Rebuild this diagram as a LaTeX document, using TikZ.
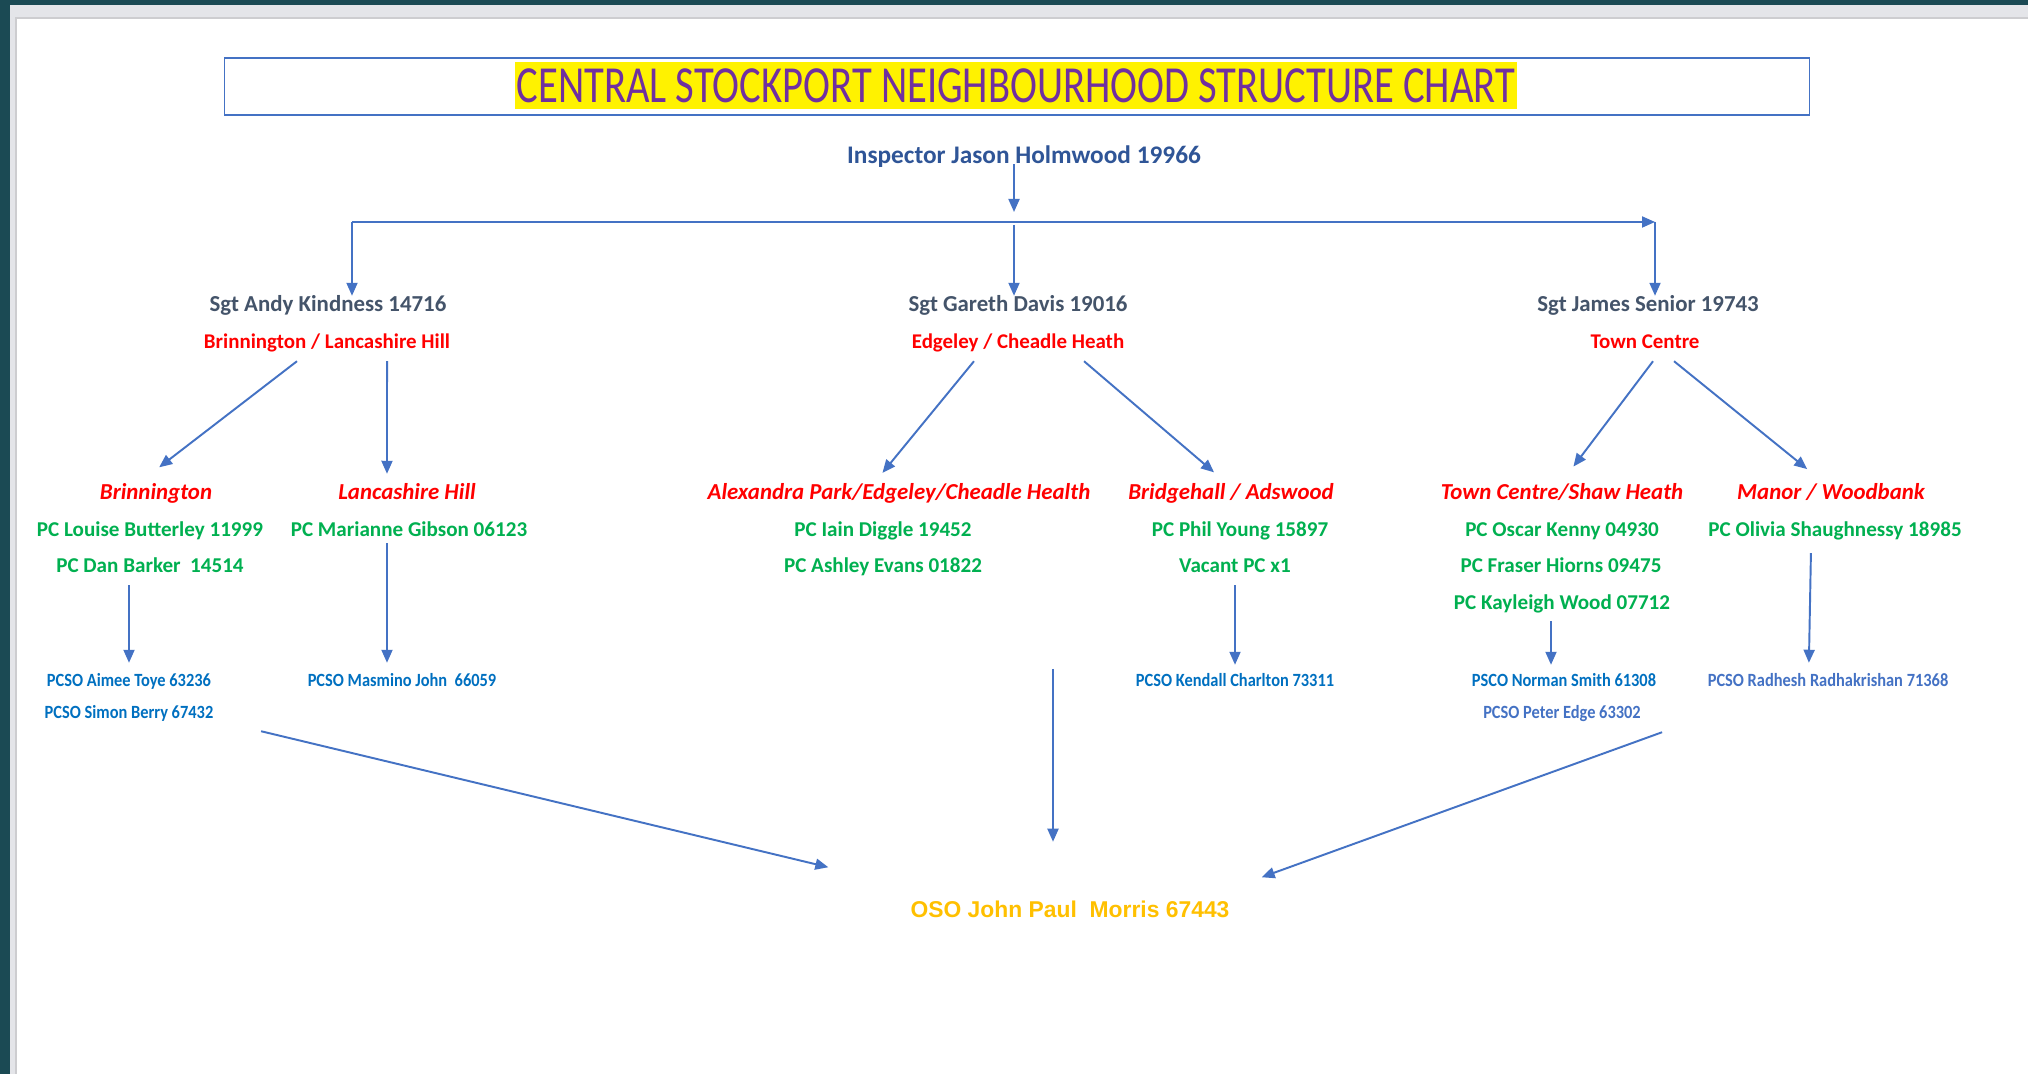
\documentclass[tikz,border=0pt]{standalone}
\usepackage{fontspec}
\setmainfont{Carlito}
\newfontfamily\titlefont[FakeStretch=0.78]{Carlito}
\newfontfamily\pcsofont[FakeStretch=0.88]{Carlito}
\newfontfamily\arialfont{Liberation Sans}
\usetikzlibrary{arrows.meta}

\definecolor{linkblue}{RGB}{68,114,196}
\definecolor{chartpurple}{RGB}{112,48,160}
\definecolor{inspblue}{RGB}{47,85,151}
\definecolor{sgtgrey}{RGB}{68,84,106}
\definecolor{pcgreen}{RGB}{0,176,80}
\definecolor{pcsoblue}{RGB}{0,112,192}
\definecolor{osogold}{RGB}{255,192,0}
\definecolor{frameteal}{RGB}{27,74,84}
\definecolor{framegrey}{RGB}{228,229,233}
\definecolor{edgegrey}{RGB}{205,205,208}

\tikzset{
  link/.style={draw=linkblue,line width=0.55pt,-{Triangle[length=1.3mm,width=1.1mm]}},
  txt/.style={inner sep=0.4mm,text height=0.72em,text depth=0.22em},
  sgt/.style={txt,font=\fontsize{6.5}{7}\selectfont\bfseries,text=sgtgrey},
  area/.style={txt,font=\fontsize{5.95}{7}\selectfont\bfseries,text=red},
  beat/.style={txt,font=\fontsize{6.5}{7}\selectfont\bfseries\itshape,text=red},
  pc/.style={txt,font=\fontsize{6}{7}\selectfont\bfseries,text=pcgreen},
  pcso/.style={txt,font=\fontsize{5.3}{6}\pcsofont\bfseries,text=pcsoblue},
}

\begin{document}
\begin{tikzpicture}[x=0.01cm,y=-0.01cm]
% page frame
\fill[frameteal] (0,0) rectangle (2028,1074);
\fill[framegrey] (10,5) rectangle (2028,1074);
\fill[edgegrey] (15,17) rectangle (2028,1074);
\fill[white] (17,19) rectangle (2028,1074);
\useasboundingbox (0,0) rectangle (2028,1074);

% title
\node[draw=linkblue,line width=0.45pt,minimum width=15.84cm,minimum height=0.57cm] (frame) at (1017,86.5) {};
\node[fill=yellow,inner xsep=0.2mm,inner ysep=0pt,minimum height=4.7mm,text=chartpurple,font=\fontsize{14.8}{16}\titlefont] (title) at (1016,85.5) {CENTRAL STOCKPORT NEIGHBOURHOOD STRUCTURE CHART};

% inspector and sergeants
\node[txt,font=\fontsize{7.2}{8}\selectfont\bfseries,text=inspblue] (insp) at (1024,155) {Inspector Jason Holmwood 19966};
\node[sgt] (sgtA) at (328,303) {Sgt Andy Kindness 14716};
\node[sgt] (sgtB) at (1018,303) {Sgt Gareth Davis 19016};
\node[sgt] (sgtC) at (1648,303) {Sgt James Senior 19743};
\node[area] (areaA) at (327,340) {Brinnington / Lancashire Hill};
\node[area] (areaB) at (1018,340) {Edgeley / Cheadle Heath};
\node[area] (areaC) at (1645,340) {Town Centre};

% beats
\node[beat] (brin) at (156,491) {Brinnington};
\node[beat] (lanc) at (407,491) {Lancashire Hill};
\node[beat] (alex) at (899,491) {Alexandra Park/Edgeley/Cheadle Health};
\node[beat] (bridge) at (1231,491) {Bridgehall / Adswood};
\node[beat] (tcsh) at (1562,491) {Town Centre/Shaw Heath};
\node[beat] (manor) at (1831,491) {Manor / Woodbank};

% constables
\node[pc] (louise) at (150,528) {PC Louise Butterley 11999};
\node[pc] (dan) at (150,564) {PC Dan Barker~~14514};
\node[pc] (marianne) at (409,528) {PC Marianne Gibson 06123};
\node[pc] (iain) at (883,528) {PC Iain Diggle 19452};
\node[pc] (ashley) at (883,564) {PC Ashley Evans 01822};
\node[pc] (phil) at (1240,528) {PC Phil Young 15897};
\node[pc] (vacant) at (1235,564) {Vacant PC x1};
\node[pc] (oscar) at (1562,528) {PC Oscar Kenny 04930};
\node[pc] (fraser) at (1561,564) {PC Fraser Hiorns 09475};
\node[pc] (kayleigh) at (1562,601) {PC Kayleigh Wood 07712};
\node[pc] (olivia) at (1835,528) {PC Olivia Shaughnessy 18985};

% pcsos
\node[pcso] (aimee) at (129,678) {PCSO Aimee Toye 63236};
\node[pcso] (simon) at (129,710) {PCSO Simon Berry 67432};
\node[pcso] (masmino) at (402,678) {PCSO Masmino John~~66059};
\node[pcso] (kendall) at (1235,678) {PCSO Kendall Charlton 73311};
\node[pcso] (norman) at (1564,678) {PSCO Norman Smith 61308};
\node[pcso,text=linkblue] (peter) at (1562,710) {PCSO Peter Edge 63302};
\node[pcso,text=linkblue] (radhesh) at (1828,678) {PCSO Radhesh Radhakrishan 71368};

\node[txt,font=\fontsize{6.5}{7}\arialfont\bfseries,text=osogold] (oso) at (1070,909) {OSO John Paul~~Morris 67443};

% connectors
\coordinate (barL) at (352,222);
\coordinate (barM) at (1014,222);
\coordinate (barR) at (1655,222);
\draw[link,shorten <=-1.2mm,shorten >=1mm] (insp.south -| barM) -- (barM);
\draw[link] (barL) -- (barR);
\draw[link,shorten >=-1.4mm] (barL) -- (sgtA.north -| barL);
\draw[link,shorten <=0.3mm,shorten >=-1.4mm] (barM) -- (sgtB.north -| barM);
\draw[link,shorten >=-1.4mm] (barR) -- (sgtC.north -| barR);

\draw[link,shorten >=0.4mm] ([xshift=-3mm]areaA.south) -- (brin.north);
\draw[link,shorten >=-0.4mm] ([xshift=6mm]areaA.south) -- ([xshift=-2mm]lanc.north);
\draw[link,shorten >=-0.4mm] ([xshift=-4.4mm]areaB.south) -- ([xshift=-1.4mm]alex.north);
\draw[link,shorten >=-0.4mm] ([xshift=6.6mm]areaB.south) -- ([xshift=-2mm]bridge.north);
\draw[link,shorten >=0.4mm] ([xshift=0.8mm]areaC.south) -- ([xshift=0.9mm]tcsh.north);
\draw[link,shorten >=0.1mm] ([xshift=2.9mm]areaC.south) -- ([xshift=-2.3mm]manor.north);

\draw[link,shorten >=-0.6mm] (dan.south -| aimee) -- (aimee);
\draw[link,shorten <=-0.6mm,shorten >=-0.6mm] ([xshift=-2.2mm]marianne.south) -- ([xshift=-1.5mm]masmino.north);
\draw[link,shorten >=-0.8mm] (vacant) -- (kendall);
\draw[link,shorten <=-0.1mm,shorten >=-0.8mm] ([xshift=-1.1mm]kayleigh.south) -- ([xshift=-1.3mm]norman.north);
\draw[link,shorten <=0.4mm,shorten >=-0.6mm] ([xshift=-2.4mm]olivia.south) -- ([xshift=-1.9mm]radhesh.north);

\coordinate (drop) at (1053,669);
\draw[link] ([xshift=13.2mm]simon.south) -- ([xshift=-7.75mm,yshift=2.05mm]oso.north west);
\draw[link,shorten >=4.6mm] (drop) -- (drop |- oso.north);
\draw[link] ([xshift=10mm,yshift=-0.1mm]peter.south) -- ([xshift=2.75mm,yshift=1.05mm]oso.north east);
\end{tikzpicture}
\end{document}
